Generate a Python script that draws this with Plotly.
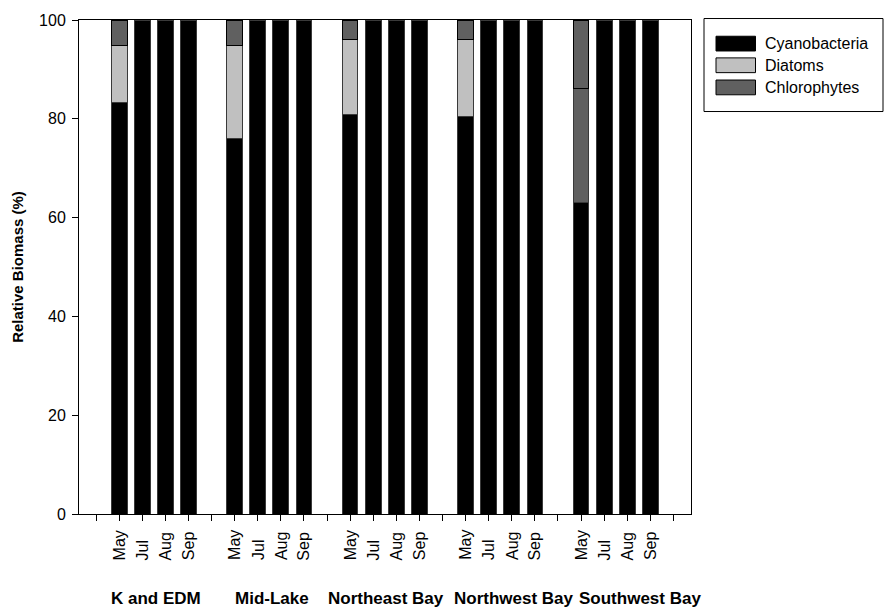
import plotly.graph_objects as go

stations = ["K and EDM", "Mid-Lake", "Northeast Bay", "Northwest Bay", "Southwest Bay"]
months = ["May", "Jul", "Aug", "Sep"]

# relative biomass (%) per station x month, in station order then month order
cyanobacteria = [83.3, 100, 100, 100,
                 76.0, 100, 100, 100,
                 80.9, 100, 100, 100,
                 80.5, 100, 100, 100,
                 63.0, 100, 100, 100]
diatoms = [11.6, 0, 0, 0,
           18.8, 0, 0, 0,
           15.1, 0, 0, 0,
           15.5, 0, 0, 0,
           0, 0, 0, 0]
# unlabelled dark segment (same shade as chlorophytes) in Southwest Bay May
unlabelled = [0, 0, 0, 0,
              0, 0, 0, 0,
              0, 0, 0, 0,
              0, 0, 0, 0,
              23.1, 0, 0, 0]
chlorophytes = [5.1, 0, 0, 0,
                5.2, 0, 0, 0,
                4.0, 0, 0, 0,
                4.0, 0, 0, 0,
                13.9, 0, 0, 0]

yticks = [0, 20, 40, 60, 80, 100]

# layout helpers (positions, not data)
slots_per_group = len(months) + 1
xpos = [g * slots_per_group + m + 1 for g in range(len(stations)) for m in range(len(months))]
label_offsets = [0.1, 0.12, 0.06, 0.58, 1.06]
FONT = "Arial, Liberation Sans, sans-serif"

def nz(vals):
    return [v if v else None for v in vals]

fig = go.Figure()
series = [
    ("Cyanobacteria", cyanobacteria, "#000000", "#3a3a3a"),
    ("Diatoms", diatoms, "#c0c0c0", "#3a3a3a"),
    ("Other", unlabelled, "#606060", "#3a3a3a"),
    ("Chlorophytes", chlorophytes, "#606060", "#000000"),
]
for name, vals, col, lc in series:
    fig.add_trace(go.Bar(
        x=xpos, y=nz(vals), name=name, width=0.68,
        marker=dict(color=col, line=dict(color=lc, width=1)),
        showlegend=False,
    ))

W, H = 885, 615
L, R, T, B = 79, 194, 12, 101
pw, ph = W - L - R, H - T - B

def px_x(px):
    return (px - L) / pw

def px_y(py):
    return (H - B - py) / ph

annotations = []
# month labels, rotated, bottom-aligned
for i, x in enumerate(xpos):
    annotations.append(dict(
        x=x, xref="x", y=px_y(563), yref="paper",
        text=months[i % len(months)], textangle=-90, showarrow=False,
        xanchor="center", yanchor="bottom",
        font=dict(family=FONT, size=16, color="#000"),
    ))
# station labels
for g, s in enumerate(stations):
    cx = g * slots_per_group + (len(months) + 1) / 2 + label_offsets[g]
    annotations.append(dict(
        x=cx, xref="x", y=px_y(600), yref="paper",
        text="<b>%s</b>" % s, showarrow=False,
        xanchor="center", yanchor="middle",
        font=dict(family=FONT, size=17, color="#000"),
    ))

# legend (manual, for wide swatches)
legend_items = [("Cyanobacteria", "#000000"), ("Diatoms", "#c0c0c0"), ("Chlorophytes", "#606060")]
shapes = [dict(type="rect", xref="paper", yref="paper",
               x0=px_x(704), x1=px_x(883), y0=px_y(105), y1=px_y(10.5),
               line=dict(color="#000", width=1), fillcolor="rgba(0,0,0,0)")]
row_centers = [36, 58, 80.5]
for (name, col), rc in zip(legend_items, row_centers):
    shapes.append(dict(type="rect", xref="paper", yref="paper",
                       x0=px_x(716), x1=px_x(755.5), y0=px_y(rc + 7.5), y1=px_y(rc - 7.5),
                       line=dict(color="#000", width=1), fillcolor=col))
    annotations.append(dict(
        x=px_x(763), xref="paper", y=px_y(rc), yref="paper",
        text=name, showarrow=False, xanchor="left", yanchor="middle",
        font=dict(family=FONT, size=16, color="#000"),
    ))

fig.update_layout(
    width=W, height=H,
    margin=dict(l=L, r=R, t=T, b=B, pad=0),
    barmode="stack",
    plot_bgcolor="white", paper_bgcolor="white",
    font=dict(family=FONT, size=16, color="#000"),
    annotations=annotations,
    shapes=shapes,
    xaxis=dict(
        range=[-0.74, 25.76],
        tickvals=list(range(0, len(stations) * slots_per_group + 1)),
        showticklabels=False,
        ticks="outside", ticklen=6, tickcolor="#000", tickwidth=1,
        showline=True, linecolor="#000", linewidth=1, mirror=True,
        showgrid=False, zeroline=False,
    ),
    yaxis=dict(
        range=[0, 100],
        tickvals=yticks,
        ticks="outside", ticklen=6, tickcolor="#000", tickwidth=1,
        tickfont=dict(family=FONT, size=16, color="#000"),
        ticklabelstandoff=3,
        showline=True, linecolor="#000", linewidth=1, mirror=True,
        showgrid=False, zeroline=False,
        title=dict(text="<b>Relative Biomass (%)</b>",
                   font=dict(family=FONT, size=15, color="#000"), standoff=11),
    ),
)

fig.write_html("out.html")
